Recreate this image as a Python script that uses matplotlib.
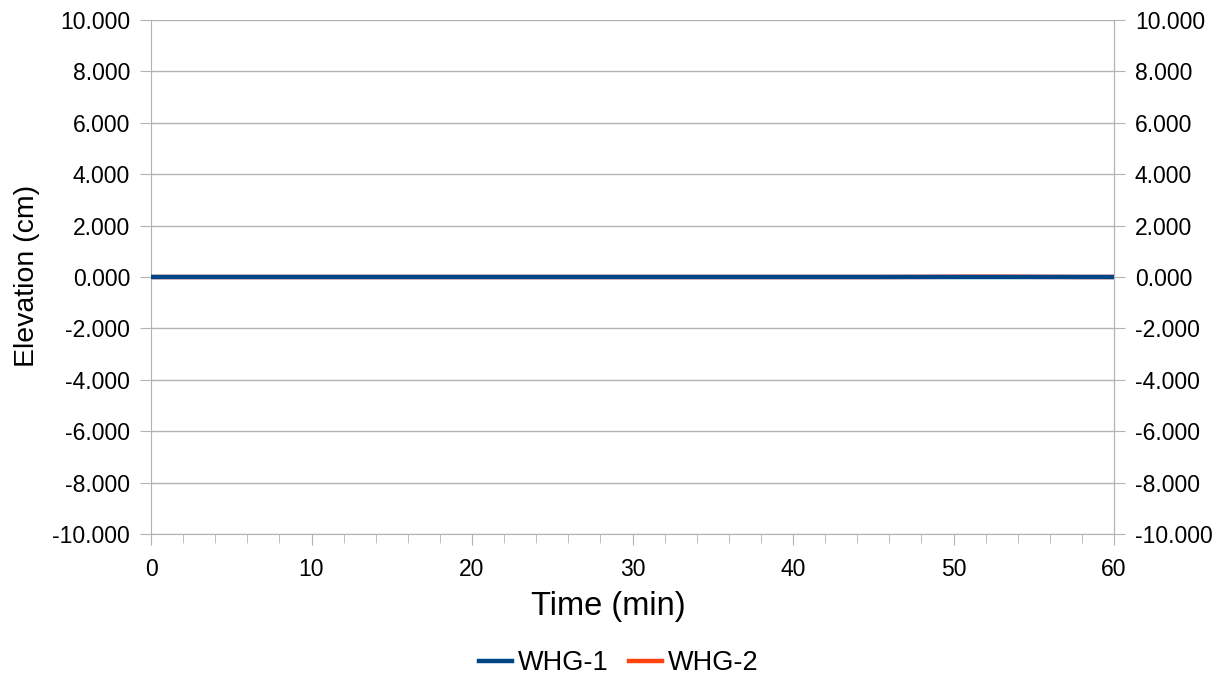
import numpy as np
import matplotlib.pyplot as plt
from matplotlib.ticker import FuncFormatter, MultipleLocator

plt.rcParams['font.family'] = ['Liberation Sans', 'DejaVu Sans']

# --- Data ---
time_min = [0, 5, 10, 15, 20, 25, 30, 35, 40, 45, 48, 50, 52, 54, 56, 58, 60]
whg1 = [0.0, 0.0, 0.0, 0.0, 0.0, 0.0, 0.0, 0.0, 0.0, 0.0, 0.0, 0.0, 0.0, 0.0, 0.0, 0.0, 0.0]
whg2 = [0.0, 0.0, 0.0, 0.0, 0.0, 0.0, 0.0, 0.0, 0.0, 0.0, 0.005, 0.01, 0.012, 0.01, 0.005, 0.0, 0.0]

y_ticks = [-10, -8, -6, -4, -2, 0, 2, 4, 6, 8, 10]
x_ticks = [0, 10, 20, 30, 40, 50, 60]

c_blue = '#004586'
c_orange = '#ff420e'
grid_c = '#b3b3b3'

W, H = 1217, 677
fig = plt.figure(figsize=(W / 100, H / 100), dpi=100)
ax = fig.add_axes([151 / W, 1 - 534 / H, (1114 - 151) / W, (534 - 20) / H])

ax.plot(time_min, whg2, color=c_orange, lw=3.2, label='WHG-2', zorder=2)
ax.plot(time_min, whg1, color=c_blue, lw=3.2, label='WHG-1', zorder=3)

ax.set_xlim(0, 60)
ax.set_ylim(-10, 10)
ax.set_xticks(x_ticks)
ax.xaxis.set_minor_locator(MultipleLocator(2))
ax.set_yticks(y_ticks)
fmt = FuncFormatter(lambda v, p: f'{v:.3f}')
ax.yaxis.set_major_formatter(fmt)
ax.grid(axis='y', color=grid_c, lw=1)
ax.set_axisbelow(True)

ax.spines['top'].set_visible(False)
for s in ['left', 'right', 'bottom']:
    ax.spines[s].set_color(grid_c)

ax.tick_params(axis='y', length=8, color=grid_c, labelsize=16.5, pad=7)
ax.tick_params(axis='x', which='major', length=8, color=grid_c, labelsize=16.5, pad=9)
ax.tick_params(axis='x', which='minor', length=6.5, color=grid_c)

ax2 = ax.twinx()
ax2.set_ylim(-10, 10)
ax2.set_yticks(y_ticks)
ax2.yaxis.set_major_formatter(fmt)
ax2.tick_params(axis='y', length=8, color=grid_c, labelsize=16.5, pad=7)
for s in ['top', 'left', 'bottom']:
    ax2.spines[s].set_visible(False)
ax2.spines['right'].set_color(grid_c)

# axis titles
fig.text(608 / W, 1 - 607 / H, 'Time (min)', fontsize=23.5, ha='center', va='center')
fig.text(27 / W, 1 - 276 / H, 'Elevation (cm)', fontsize=20.5, ha='center', va='center',
         rotation=90)

handles, labels = ax.get_legend_handles_labels()
fig.legend(handles[::-1], labels[::-1], loc='center', bbox_to_anchor=(619 / W, 1 - 663 / H),
           ncol=2, frameon=False, fontsize=19.5, handlelength=1.22, handletextpad=0.22,
           columnspacing=0.74, borderpad=0, borderaxespad=0)

fig.savefig('out.png', dpi=100)
